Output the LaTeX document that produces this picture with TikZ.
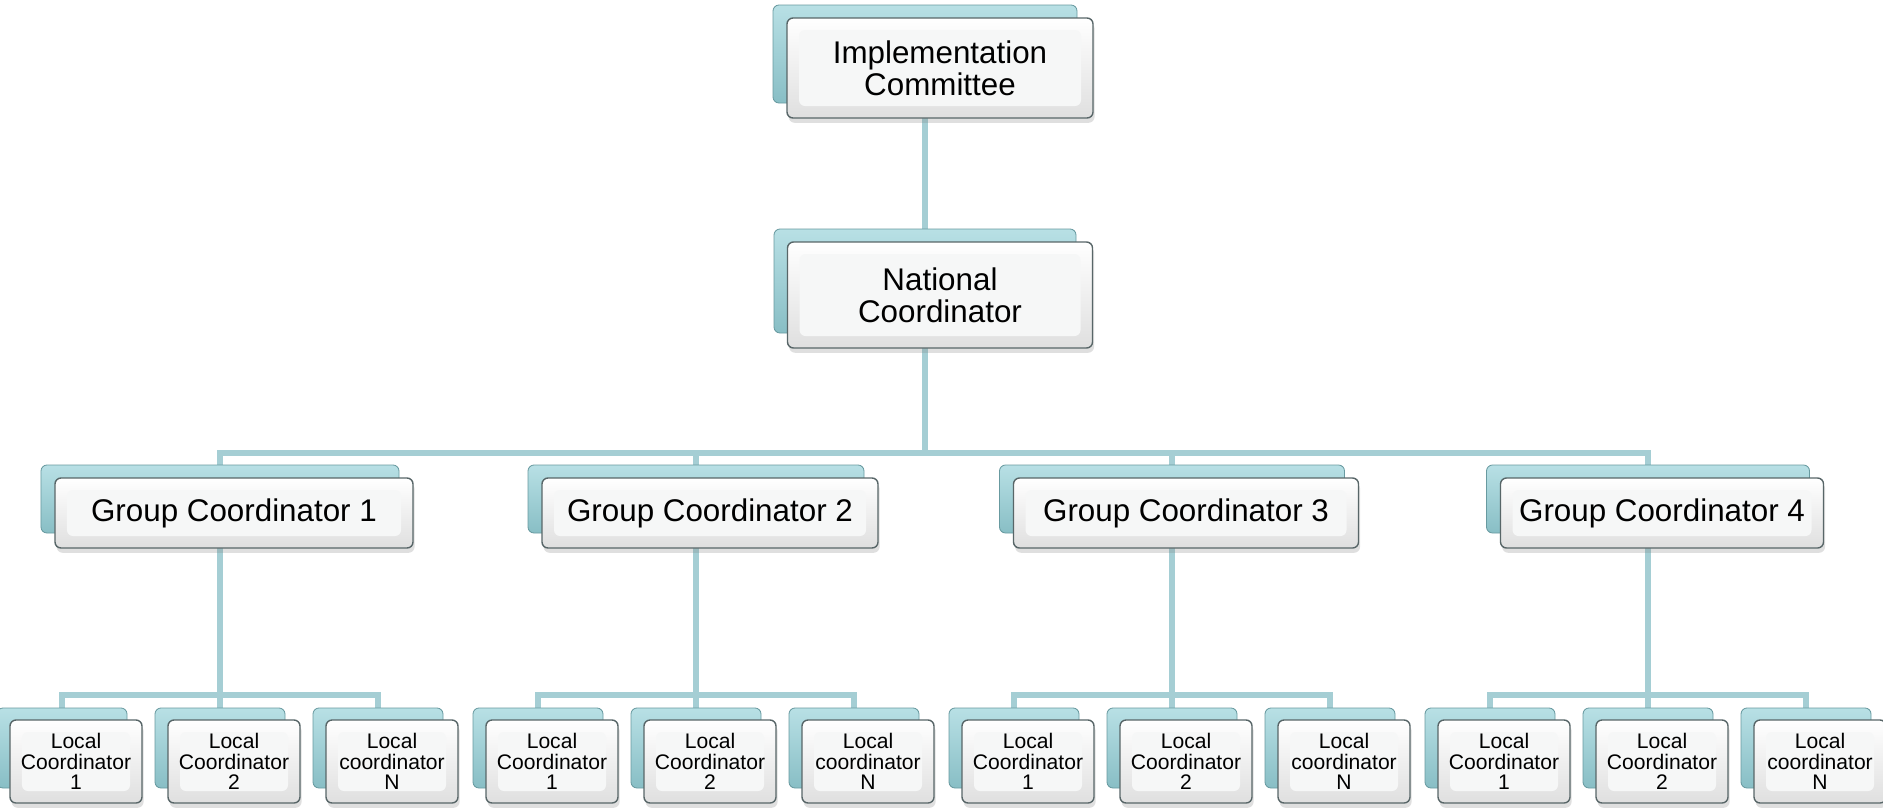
\documentclass[tikz,border=0pt]{standalone}
\usepackage{fontspec}
\setmainfont{Liberation Sans}
\usetikzlibrary{shadows, backgrounds}

\definecolor{linkteal}{RGB}{165,206,212}
\definecolor{backtop}{RGB}{184,224,229}
\definecolor{backbot}{RGB}{136,190,197}
\definecolor{backrim}{RGB}{104,154,160}
\definecolor{frontrim}{RGB}{88,102,104}
\definecolor{bevelface}{RGB}{246,247,247}

\begin{document}
\begin{tikzpicture}[x=0.25mm, y=-0.25mm, semithick]
  \tikzstyle{backbox}=[rectangle, rounded corners=1.5mm, inner sep=0pt,
    draw=backrim, top color=backtop, bottom color=backbot]
  \tikzstyle{frontbox}=[rectangle, rounded corners=1.5mm, inner sep=0pt, align=center,
    draw=frontrim, line width=0.35mm, top color=white, bottom color=gray!25,
    drop shadow={shadow xshift=0.4mm, shadow yshift=-1.2mm, opacity=0.25},
    path picture={\fill[bevelface]
      ([shift={(3mm,-3mm)}]path picture bounding box.north west) rectangle
      ([shift={(-3mm,3mm)}]path picture bounding box.south east);}]
  \tikzstyle{bigtext}=[font=\fontsize{22.3}{23}\selectfont]
  \tikzstyle{smalltext}=[font=\fontsize{15}{14.6}\selectfont]
  \tikzstyle{link}=[draw=linkteal, line width=1.6mm]

  \useasboundingbox (0,0) rectangle (1883,807);

  % Top boxes
  \node[backbox, minimum width=76mm, minimum height=24.5mm] (impl-b) at (925,54) {};
  \node[frontbox, bigtext, minimum width=76.5mm, minimum height=25mm] (impl) at (940,68)
    {Implementation\\Committee};

  \node[backbox, minimum width=75.5mm, minimum height=26mm] (natl-b) at (925,281) {};
  \node[frontbox, bigtext, minimum width=76.25mm, minimum height=26.5mm] (natl) at (940,295)
    {National\\Coordinator};

  % Group and local boxes
  \foreach \g/\x/\w in {1/220/89.5, 2/696/84, 3/1172/86.25, 4/1648/80.75} {
    \node[backbox, minimum width=\w mm, minimum height=17mm] (grp\g-b) at (\x,499) {};
    \node[frontbox, bigtext, minimum width=\w mm, minimum height=17.5mm] (grp\g) at (\x+14,513)
      {Group Coordinator \g};
    \foreach \k/\dx/\txt in {1/-158/{Local\\Coordinator\\1},
                             2/0/{Local\\Coordinator\\2},
                             3/158/{Local\\coordinator\\N}} {
      \node[backbox, minimum width=32.5mm, minimum height=20mm] (loc\g\k-b) at (\x+\dx,748) {};
      \node[frontbox, smalltext, minimum width=33mm, minimum height=20.75mm] (loc\g\k)
        at (\x+\dx+14,761.5) {\txt};
    }
  }

  % Connectors
  \begin{scope}[on background layer]
    \draw[link] (impl-b.south) -- (natl-b.north);
    \coordinate (hub) at (925,453);
    \draw[link] (natl-b.south) -- (hub);
    \foreach \g/\x in {1/220, 2/696, 3/1172, 4/1648} {
      \draw[link] (hub) -| (grp\g-b.north);
      \coordinate (hub\g) at (\x,695);
      \draw[link] (grp\g-b.south) -- (hub\g);
      \foreach \k in {1,2,3}
        \draw[link] (hub\g) -| (loc\g\k-b.north);
    }
  \end{scope}

\end{tikzpicture}
\end{document}
